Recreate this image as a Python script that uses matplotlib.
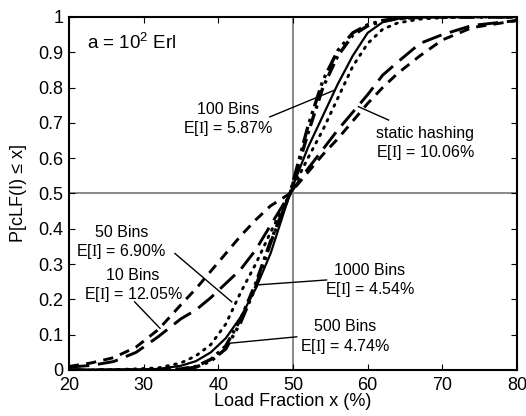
import numpy as np
import matplotlib
matplotlib.use("Agg")
import matplotlib.pyplot as plt
from matplotlib.ticker import FormatStrFormatter

plt.rcParams['font.family'] = ['Liberation Sans', 'DejaVu Sans']
plt.rcParams['mathtext.fontset'] = 'custom'
plt.rcParams['mathtext.rm'] = 'Liberation Sans'
plt.rcParams['mathtext.sf'] = 'Liberation Serif'

# load fraction grid (%)
x = [20, 23, 26, 29, 32, 35, 37, 39, 41, 43, 45, 47, 49.6,
     52, 54, 56, 58, 60, 62, 64, 67, 70, 74, 80]

# P[cLF(I) <= x]
bins10 = [0.01, 0.02, 0.035, 0.065, 0.115, 0.185, 0.23, 0.28, 0.33, 0.38, 0.425, 0.465, 0.5,
          0.56, 0.61, 0.655, 0.705, 0.755, 0.80, 0.84, 0.89, 0.935, 0.97, 0.99]
static = [0.008, 0.013, 0.024, 0.05, 0.095, 0.145, 0.17, 0.205, 0.245, 0.285, 0.34, 0.41, 0.5,
          0.57, 0.625, 0.68, 0.73, 0.78, 0.835, 0.872, 0.925, 0.95, 0.976, 0.99]
bins50 = [0.0, 0.0, 0.001, 0.003, 0.006, 0.02, 0.04, 0.072, 0.13, 0.22, 0.30, 0.39, 0.5,
          0.60, 0.68, 0.77, 0.86, 0.925, 0.965, 0.983, 0.994, 0.998, 1.0, 1.0]
bins100 = [0.0, 0.0, 0.0, 0.001, 0.003, 0.012, 0.025, 0.05, 0.09, 0.15, 0.23, 0.33, 0.5,
           0.63, 0.72, 0.81, 0.89, 0.955, 0.985, 0.995, 1.0, 1.0, 1.0, 1.0]
bins500 = [0.0, 0.0, 0.0, 0.0, 0.001, 0.003, 0.01, 0.03, 0.068, 0.145, 0.245, 0.365, 0.5,
           0.67, 0.80, 0.89, 0.948, 0.975, 0.988, 0.995, 0.999, 1.0, 1.0, 1.0]
bins1000 = [0.0, 0.0, 0.0, 0.0, 0.0, 0.002, 0.008, 0.025, 0.06, 0.135, 0.235, 0.36, 0.5,
            0.69, 0.82, 0.905, 0.955, 0.978, 0.99, 0.996, 1.0, 1.0, 1.0, 1.0]

fig = plt.figure(figsize=(5.26, 4.16), dpi=100)
ax = fig.add_axes([0.131, 0.1106, 0.852, 0.8486])

ax.axvline(50, color='#808080', lw=1.3, zorder=1)
ax.axhline(0.5, color='#808080', lw=1.3, zorder=1)

ax.plot(x, bins10, color='k', lw=2.1, ls=(0, (3.5, 2.5)))
ax.plot(x, static, color='k', lw=2.1, ls=(0, (7, 3)))
ax.plot(x, bins50, color='k', lw=2.1, ls=(0, (0.6, 2.2)), dash_capstyle='round')
ax.plot(x, bins100, color='k', lw=1.6, ls='-')
ax.plot(x, bins500, color='k', lw=2.4, ls=(0, (4, 1.5, 1, 1.5)))
ax.plot(x, bins1000, color='k', lw=2.4, ls=(0, (5, 1.5, 1, 1.5, 1, 1.5)))

fs = 11.5
ax.text(22.4, 0.926, r'a = 10$^2$ Erl', fontsize=13.5, va='center')

labels = [
    ('100 Bins\nE[$\\mathsf{I}$] = 5.87%', 41.3, 0.708, (46.9, 0.717), (55.6, 0.793)),
    ('static hashing\nE[$\\mathsf{I}$] = 10.06%', 67.7, 0.640, (62.8, 0.708), (58.75, 0.746)),
    ('50 Bins\nE[$\\mathsf{I}$] = 6.90%', 27.0, 0.361, (34.2, 0.330), (41.8, 0.193)),
    ('10 Bins\nE[$\\mathsf{I}$] = 12.05%', 28.6, 0.239, (28.8, 0.193), (32.2, 0.118)),
    ('1000 Bins\nE[$\\mathsf{I}$] = 4.54%', 60.3, 0.252, (54.5, 0.255), (45.2, 0.241)),
    ('500 Bins\nE[$\\mathsf{I}$] = 4.74%', 57.0, 0.092, (50.5, 0.094), (41.6, 0.076)),
]
for txt, tx, ty, p0, p1 in labels:
    ax.text(tx, ty, txt, fontsize=fs, ha='center', va='center', linespacing=1.15)
    ax.plot([p0[0], p1[0]], [p0[1], p1[1]], color='k', lw=1.0)

ax.set_xlim(20, 80)
ax.set_ylim(0, 1)
ax.set_xticks([20, 30, 40, 50, 60, 70, 80])
ax.set_yticks(np.arange(0, 1.01, 0.1))
ax.yaxis.set_major_formatter(FormatStrFormatter('%g'))
ax.tick_params(direction='in', top=True, right=True, labelsize=13, length=4, width=0.8)
ax.tick_params(axis='x', pad=5)
ax.tick_params(axis='y', pad=4)
for s in ax.spines.values():
    s.set_linewidth(1.5)

ax.set_xlabel('Load Fraction x (%)', fontsize=13, labelpad=-1)
ax.set_ylabel('P[cLF(I) ≤ x]', fontsize=13, labelpad=8)

fig.savefig('out.png', dpi=100)
